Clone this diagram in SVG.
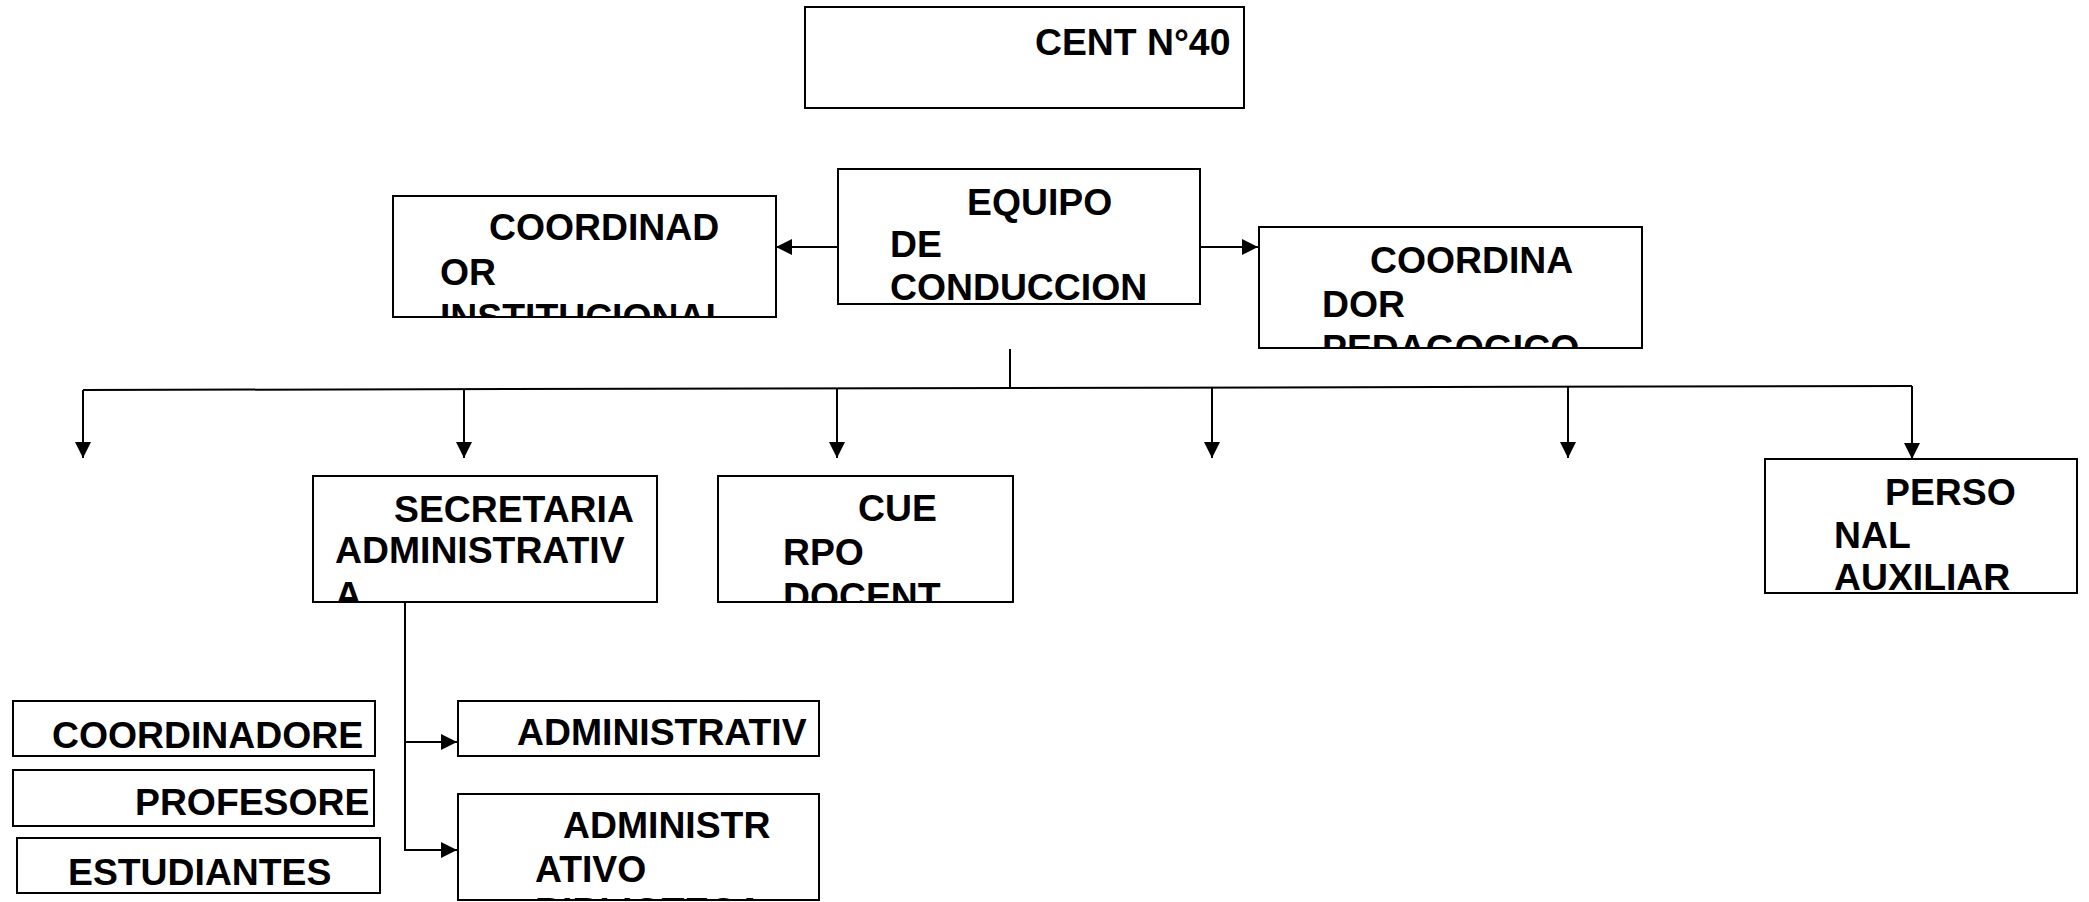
<svg xmlns="http://www.w3.org/2000/svg" width="2089" height="902" viewBox="0 0 2089 902">
<style>
.box{fill:#fff;stroke:#000;stroke-width:2}
.t{font-family:"Liberation Sans",Arial,sans-serif;font-weight:bold;font-size:37.33px;fill:#000}
.c{fill:none;stroke:#000;stroke-width:2}
</style>
<defs>
<marker id="ah" markerUnits="userSpaceOnUse" markerWidth="16" markerHeight="16" viewBox="0 0 16 16" refX="16" refY="8" orient="auto"><path d="M0,0 L16,8 L0,16 z" fill="#000"/></marker>
<clipPath id="cpCoordInst"><rect x="393" y="196" width="383" height="121"/></clipPath>
<clipPath id="cpEquipo"><rect x="838" y="169" width="362" height="135"/></clipPath>
<clipPath id="cpCoordPed"><rect x="1259" y="227" width="383" height="121"/></clipPath>
<clipPath id="cpSec"><rect x="313" y="476" width="344" height="126"/></clipPath>
<clipPath id="cpCue"><rect x="718" y="476" width="295" height="126"/></clipPath>
<clipPath id="cpBib"><rect x="458" y="794" width="361" height="106"/></clipPath>
</defs>

<g id="connectors">
<line class="c" x1="838" y1="247" x2="776" y2="247" marker-end="url(#ah)"/>
<line class="c" x1="1200" y1="247" x2="1258" y2="247" marker-end="url(#ah)"/>
<line class="c" x1="1010" y1="349" x2="1010" y2="388"/>
<line class="c" x1="83" y1="390" x2="1912" y2="386"/>
<line class="c" x1="83" y1="390" x2="83" y2="458" marker-end="url(#ah)"/>
<line class="c" x1="464" y1="389.2" x2="464" y2="458" marker-end="url(#ah)"/>
<line class="c" x1="837" y1="388.4" x2="837" y2="458" marker-end="url(#ah)"/>
<line class="c" x1="1212" y1="387.5" x2="1212" y2="458" marker-end="url(#ah)"/>
<line class="c" x1="1568" y1="386.8" x2="1568" y2="458" marker-end="url(#ah)"/>
<line class="c" x1="1912" y1="386" x2="1912" y2="459" marker-end="url(#ah)"/>
<line class="c" x1="405" y1="602" x2="405" y2="850"/>
<line class="c" x1="404" y1="742" x2="457" y2="742" marker-end="url(#ah)"/>
<line class="c" x1="404" y1="850" x2="457" y2="850" marker-end="url(#ah)"/>
</g>

<g id="cent40">
<rect class="box" x="805" y="7" width="439" height="101"/>
<text class="t" x="1035" y="55">CENT N°40</text>
</g>

<g id="equipo">
<rect class="box" x="838" y="169" width="362" height="135"/>
<g clip-path="url(#cpEquipo)">
<text class="t" x="967" y="215">EQUIPO</text>
<text class="t" x="890" y="257">DE</text>
<text class="t" x="890" y="300">CONDUCCION</text>
</g>
</g>

<g id="coordinador-institucional">
<rect class="box" x="393" y="196" width="383" height="121"/>
<g clip-path="url(#cpCoordInst)">
<text class="t" x="489" y="240">COORDINAD</text>
<text class="t" x="440" y="285">OR</text>
<text class="t" x="440" y="330">INSTITUCIONAL</text>
</g>
</g>

<g id="coordinador-pedagogico">
<rect class="box" x="1259" y="227" width="383" height="121"/>
<g clip-path="url(#cpCoordPed)">
<text class="t" x="1370" y="273">COORDINA</text>
<text class="t" x="1322" y="317">DOR</text>
<text class="t" x="1322" y="361">PEDAGOGICO</text>
</g>
</g>

<g id="secretaria">
<rect class="box" x="313" y="476" width="344" height="126"/>
<g clip-path="url(#cpSec)">
<text class="t" x="394" y="522">SECRETARIA</text>
<text class="t" x="335" y="563">ADMINISTRATIV</text>
<text class="t" x="335" y="608">A</text>
</g>
</g>

<g id="cuerpo-docente">
<rect class="box" x="718" y="476" width="295" height="126"/>
<g clip-path="url(#cpCue)">
<text class="t" x="858" y="521">CUE</text>
<text class="t" x="783" y="565">RPO</text>
<text class="t" x="783" y="609">DOCENT</text>
</g>
</g>

<g id="personal-auxiliar">
<rect class="box" x="1765" y="459" width="312" height="134"/>
<text class="t" x="1885" y="505">PERSO</text>
<text class="t" x="1834" y="548">NAL</text>
<text class="t" x="1834" y="590">AUXILIAR</text>
</g>

<g id="administrativo">
<rect class="box" x="458" y="701" width="361" height="55"/>
<text class="t" x="517" y="745">ADMINISTRATIV</text>
</g>

<g id="administrativo-biblioteca">
<rect class="box" x="458" y="794" width="361" height="106"/>
<g clip-path="url(#cpBib)">
<text class="t" x="563" y="838">ADMINISTR</text>
<text class="t" x="535" y="882">ATIVO</text>
<text class="t" x="535" y="924">BIBLIOTECA</text>
</g>
</g>

<g id="coordinadores">
<rect class="box" x="13" y="701" width="362" height="55"/>
<text class="t" x="52" y="748">COORDINADORE</text>
</g>

<g id="profesores">
<rect class="box" x="13" y="770" width="361" height="56"/>
<text class="t" x="135" y="815">PROFESORE</text>
</g>

<g id="estudiantes">
<rect class="box" x="17" y="838" width="363" height="55"/>
<text class="t" x="68" y="885">ESTUDIANTES</text>
</g>
</svg>
